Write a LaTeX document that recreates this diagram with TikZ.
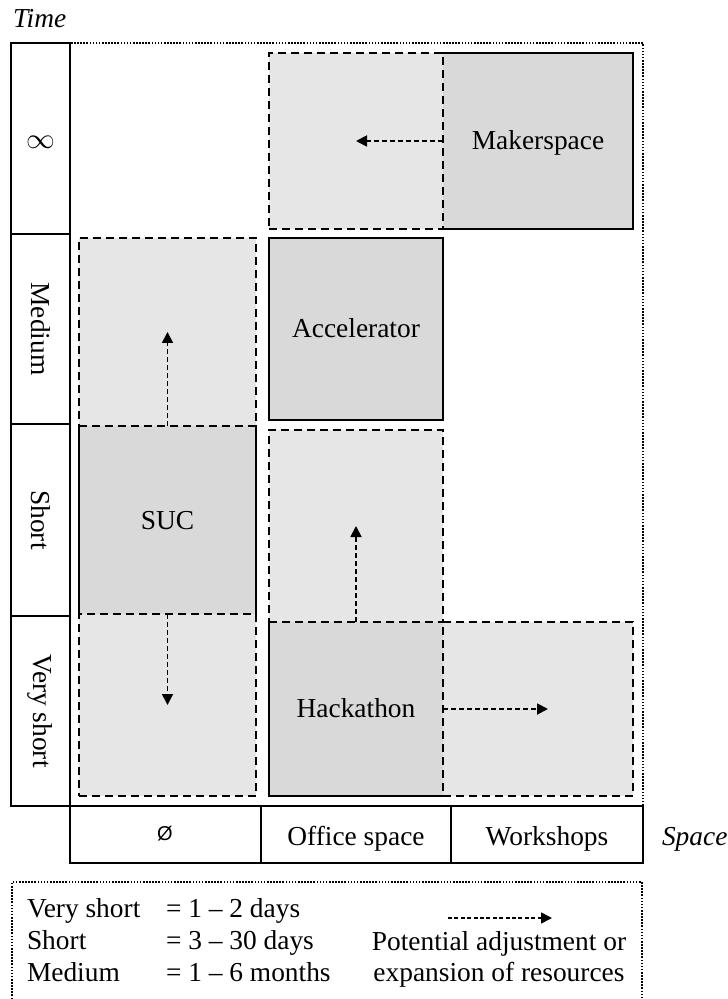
\documentclass[tikz,border=0pt]{standalone}
\usepackage{fontspec}
\setmainfont{Liberation Serif}
\newfontfamily\symfont{Liberation Sans}
\usetikzlibrary{arrows.meta,fit}

\definecolor{coreGray}{HTML}{D9D9D9}
\definecolor{optGray}{HTML}{E6E6E6}

\begin{document}
\begin{tikzpicture}[x=0.5pt,y=-0.5pt,
  every node/.style={font=\fontsize{13.7}{16}\selectfont, inner sep=0pt, outer sep=0pt},
  capcentered/.style={text height=9pt, text depth=0pt},
  frame/.style={line width=0.85pt, dash pattern=on 0.8pt off 0.75pt},
  rule/.style={draw, line width=1pt},
  core/.style={fill=coreGray},
  coreline/.style={line width=1pt, line cap=rect, line join=miter},
  option/.style={fill=optGray, draw=black, line width=1pt, dash pattern=on 4pt off 2.5pt},
  growarrow/.style={line width=0.9pt, dash pattern=on 2.5pt off 1.5pt,
               -{Triangle[length=5.5pt,width=5.5pt]}},
  keyarrow/.style={line width=0.8pt, dash pattern=on 2pt off 1.2pt,
               -{Triangle[length=5.5pt,width=5.5pt]}},
]
\useasboundingbox (0,0) rectangle (727,999);
\clip (0,0) rectangle (727,999);

% axis title
\node[anchor=base west, font=\fontsize{13.7}{16}\selectfont\itshape] (timelbl) at (13,28) {Time};

% dotted frame of the plane
\node[frame, draw, fit={(70,43) (643,806)}] (plane) {};

% time axis cells
\node[rule, fit={(11,43) (70,234)}] (tInf) {};
\node[rule, fit={(11,234) (70,424)}] (tMed) {};
\node[rule, fit={(11,424) (70,616)}] (tShort) {};
\node[rule, fit={(11,616) (70,806)}] (tVShort) {};
\node at ([yshift=-2pt]tInf.center) (lInf) {$\infty$};
\node[rotate=-90] at (tMed.center) (lMed) {Medium};
\node[rotate=-90] at (tShort.center) (lShort) {Short};
\node[rotate=-90] at (tVShort.center) (lVShort) {Very short};

% space axis cells
\node[rule, fit={(70,806) (261,863)}] (sNone) {};
\node[rule, fit={(261,806) (451,863)}] (sOffice) {};
\node[rule, fit={(451,806) (643,863)}] (sWork) {};
\node[font=\symfont\fontsize{10}{12}\selectfont] at (165,834) (lNone) {Ø};
\node[anchor=base] at (356,845) (lOffice) {Office space};
\node[anchor=base] at (547,845) (lWork) {Workshops};
\node[anchor=base west, font=\fontsize{13.7}{16}\selectfont\itshape] at (662,845) (spacelbl) {Space};

% formats (core resources)
\node[core, fit={(443,53) (633,229)}] (maker) {};
\node[core, draw, coreline, fit={(269,238) (443,420)}] (accel) {};
\node[core, fit={(79,426) (256,614)}] (suc) {};
\node[core, fit={(269,622) (443,796)}] (hack) {};
\node[capcentered] at (maker.center) (makerLbl) {Makerspace};
\node[capcentered] at (accel.center) (accelLbl) {Accelerator};
\node[capcentered] at (suc.center) (sucLbl) {SUC};
\node[capcentered] at ([yshift=0.5pt]hack.center) (hackLbl) {Hackathon};

% potential extensions
\node[option, fit={(269,53) (443,229)}] (makerExt) {};
\node[option, fit={(79,238) (256,426)}] (sucUp) {};
\node[option, fit={(79,614) (256,796)}] (sucDown) {};
\node[option, fit={(269,430) (443,622)}] (hackUp) {};
\node[option, fit={(443,622) (633,796)}] (hackRight) {};

% solid outlines where a format does not border an extension
\draw[coreline] (maker.north west) -- (maker.north east) -- (maker.south east) -- (maker.south west);
\draw[coreline] (suc.north west) -- (suc.south west);
\draw[coreline] (suc.north east) -- (suc.south east);
\draw[coreline] (hack.north west) -- (hack.south west) -- (hack.south east);

% adjustment arrows
\draw[growarrow] (maker.west) -- (makerExt.center);
\draw[growarrow] (suc.north) -- (sucUp.center);
\draw[growarrow] (suc.south) -- (sucDown.center);
\draw[growarrow] (hack.north) -- (hackUp.center);
\draw[growarrow] (hack.east) -- ([xshift=5pt]hackRight.center);

% legend
\node[frame, draw, fit={(12,882) (642,1010)}] (legend) {};
\node[anchor=base west] at (27,917) (kVS) {Very short};
\node[anchor=base west] at (27,949) (kS) {Short};
\node[anchor=base west] at (27,981) (kM) {Medium};
\node[anchor=base west] at (166,917) (vVS) {= 1 \textendash{} 2 days};
\node[anchor=base west] at (166,949) (vS) {= 3 \textendash{} 30 days};
\node[anchor=base west] at (166,981) (vM) {= 1 \textendash{} 6 months};
\coordinate (keyStart) at (448,918);
\coordinate (keyEnd) at (552,918);
\draw[keyarrow] (keyStart) -- (keyEnd);
\node[anchor=base] at (499,950) (kText1) {Potential adjustment or};
\node[anchor=base] at (499,981) (kText2) {expansion of resources};
\end{tikzpicture}
\end{document}
